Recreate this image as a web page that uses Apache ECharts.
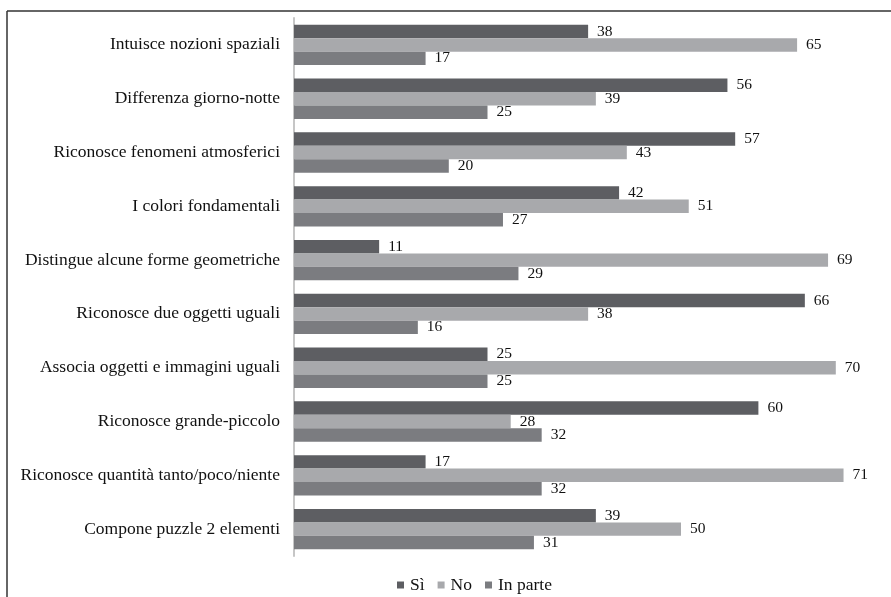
<!DOCTYPE html>
<html>
<head>
<meta charset="utf-8">
<script src="https://cdn.jsdelivr.net/npm/echarts@6/dist/echarts.min.js"></script>
<style>
  html, body { margin: 0; padding: 0; background: #fff; }
  #chart { width: 891px; height: 597px; }
</style>
</head>
<body>
<div id="chart"></div>
<script>
// Abilità osservate, dall'alto verso il basso
const categories = [
  'Intuisce nozioni spaziali',
  'Differenza giorno-notte',
  'Riconosce fenomeni atmosferici',
  'I colori fondamentali',
  'Distingue alcune forme geometriche',
  'Riconosce due oggetti uguali',
  'Associa oggetti e immagini uguali',
  'Riconosce grande-piccolo',
  'Riconosce quantità tanto/poco/niente',
  'Compone puzzle 2 elementi'
];
const seriesNames = ['Sì', 'No', 'In parte'];
const valuesSi      = [38, 56, 57, 42, 11, 66, 25, 60, 17, 39];
const valuesNo      = [65, 39, 43, 51, 69, 38, 70, 28, 71, 50];
const valuesInParte = [17, 25, 20, 27, 29, 16, 25, 32, 32, 31];

const colors = ['#5d5e62', '#a8a9ac', '#7b7c80'];
const font = '"Liberation Serif", "Times New Roman", serif';

const makeSeries = (name, data, color) => ({
  name: name,
  type: 'bar',
  data: data,
  barGap: '0%',
  barCategoryGap: '25%',
  itemStyle: { color: color },
  label: {
    show: true,
    position: 'right',
    distance: 9,
    color: '#111',
    fontFamily: font,
    fontSize: 15.5
  },
  animation: false
});

const chart = echarts.init(document.getElementById('chart'));
chart.setOption({
  backgroundColor: '#fff',
  textStyle: { fontFamily: font },
  grid: { left: 294, top: 18, height: 538, right: 16.5 },
  xAxis: {
    type: 'value',
    min: 0,
    max: 75,
    show: false
  },
  yAxis: {
    type: 'category',
    data: categories,
    inverse: true,
    axisLine: { show: true, lineStyle: { color: '#c6c6c6', width: 2 } },
    axisTick: { show: false },
    axisLabel: {
      color: '#111',
      fontFamily: font,
      fontSize: 17.5,
      margin: 14
    }
  },
  legend: {
    data: seriesNames,
    left: 397,
    top: 576,
    padding: 0,
    itemWidth: 7,
    itemHeight: 7,
    itemGap: 13,
    icon: 'rect',
    textStyle: { color: '#111', fontFamily: font, fontSize: 17.5, padding: [0, 0, 0, 1] }
  },
  graphic: [
    { type: 'line', shape: { x1: 7, y1: 11, x2: 891, y2: 11 }, style: { stroke: '#333', lineWidth: 1.5 } },
    { type: 'line', shape: { x1: 7, y1: 11, x2: 7, y2: 597 }, style: { stroke: '#333', lineWidth: 1.5 } }
  ],
  series: [
    makeSeries(seriesNames[0], valuesSi, colors[0]),
    makeSeries(seriesNames[1], valuesNo, colors[1]),
    makeSeries(seriesNames[2], valuesInParte, colors[2])
  ]
});
</script>
</body>
</html>
